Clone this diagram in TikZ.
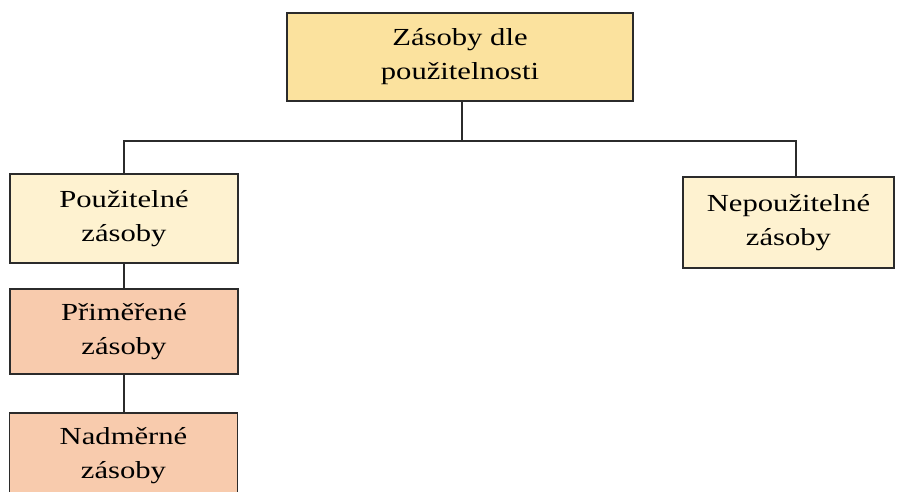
\documentclass[tikz,border=0pt]{standalone}
\usepackage{fontspec}
\setmainfont{Liberation Serif}[FakeStretch=1.25]
\definecolor{goldfill}{HTML}{FBE29E}
\definecolor{creamfill}{HTML}{FEF2D0}
\definecolor{peachfill}{HTML}{F8CBAD}
\definecolor{edgecol}{HTML}{2B2B2B}
\begin{document}
\begin{tikzpicture}[x=1pt,y=-1pt,
  box/.style={draw=edgecol, line width=1.2pt, inner sep=0pt, align=center,
    font=\fontsize{24.5}{34}\selectfont, text=black},
  link/.style={draw=edgecol, line width=1.2pt}]
\useasboundingbox (0,0) rectangle (897,492);
\clip (0,0) rectangle (897,492);
\fill[white] (0,0) rectangle (897,492);

% root category
\node[box, fill=goldfill, minimum width=346pt, minimum height=88pt] (root) at (460,57)
  {Zásoby dle\\použitelnosti};

% two branches
\node[box, fill=creamfill, minimum width=228pt, minimum height=89pt] (use) at (124,218.5)
  {Použitelné\\zásoby};
\node[box, fill=creamfill, minimum width=211pt, minimum height=91pt] (unuse) at (788.5,222.5)
  {Nepoužitelné\\zásoby};

% subdivisions of usable stock
\node[box, fill=peachfill, minimum width=228pt, minimum height=85pt] (adequate) at (124,331.5)
  {Přiměřené\\zásoby};
\node[box, fill=peachfill, minimum width=228pt, minimum height=86pt] (excess) at (123.5,456)
  {Nadměrné\\zásoby};

% connectors
\coordinate (bus) at (462,141);
\coordinate (rdrop) at (796,141);
\draw[link] (root.south -| bus) -- (bus);
\draw[link] (use.north) -- (use.north |- bus) -- (rdrop) -- (rdrop |- unuse.north);
\draw[link] (use.south) -- (adequate.north);
\draw[link] (adequate.south) -- (adequate.south |- excess.north);
\end{tikzpicture}
\end{document}
